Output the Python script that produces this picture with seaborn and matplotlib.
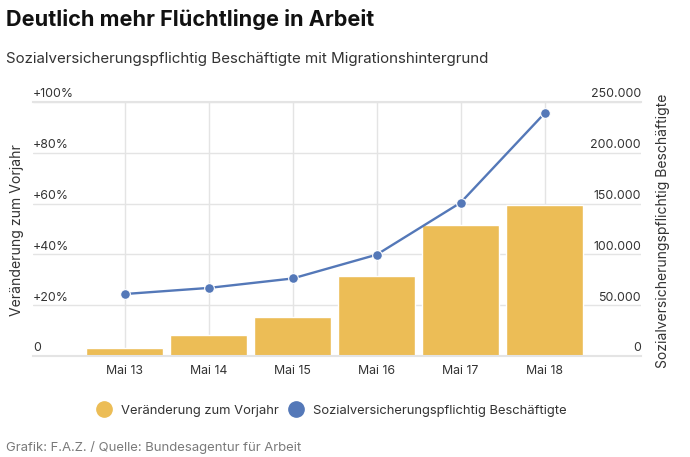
import matplotlib
matplotlib.use("Agg")
import matplotlib.pyplot as plt
from matplotlib.lines import Line2D
from matplotlib.transforms import ScaledTranslation
import pandas as pd
import seaborn as sns

categories = ["Mai 13", "Mai 14", "Mai 15", "Mai 16", "Mai 17", "Mai 18"]
change_pct = [3.3, 8.4, 15.4, 31.5, 51.6, 59.4]
employees = [61000, 67000, 76300, 99700, 150900, 238900]
pct_ticks = [0, 20, 40, 60, 80, 100]
pct_labels = ["0", "+20%", "+40%", "+60%", "+80%", "+100%"]
emp_ticks = [0, 50000, 100000, 150000, 200000, 250000]
emp_labels = ["0", "50.000", "100.000", "150.000", "200.000", "250.000"]
bar_name = "Veränderung zum Vorjahr"
line_name = "Sozialversicherungspflichtig Beschäftigte"

GOLD = "#ecbd56"
BLUE = "#5478b8"
GRID = "#e4e4e4"
TEXT = "#333333"

sns.set_theme(style="white")
plt.rcParams["font.family"] = ["Inter", "DejaVu Sans"]

W, H = 690, 457
fig = plt.figure(figsize=(W / 100, H / 100), dpi=100, facecolor="white")
L, R, T, B = 33, 641, 102, 356
ax = fig.add_axes([L / W, 1 - B / H, (R - L) / W, (B - T) / H])

df = pd.DataFrame({"cat": categories, "pct": change_pct, "emp": employees})
sns.barplot(data=df, x="cat", y="pct", color=GOLD, saturation=1, width=0.91,
            ax=ax, zorder=2)
ax.set_xlim((L - 124.6) / 84, (R - 124.6) / 84)
ax.set_ylim(0, 100)
ax.set_axisbelow(True)
ax.grid(True, color=GRID, linewidth=1)
for s in ax.spines.values():
    s.set_visible(False)
ax.set_xlabel("")
ax.set_ylabel(bar_name, fontsize=10.1, color=TEXT, labelpad=0)
ax.yaxis.set_label_coords((24 - L) / (R - L), 0.496)
ax.set_yticks(pct_ticks, pct_labels)
ax.tick_params(axis="y", length=0, pad=0, labelsize=8.9, labelcolor=TEXT)
up = ScaledTranslation(0, 1.2 / 72, fig.dpi_scale_trans)
for lab in ax.get_yticklabels():
    lab.set_ha("left")
    lab.set_va("bottom")
    lab.set_x(0)
    lab.set_transform(ax.get_yaxis_transform() + up)
ax.tick_params(axis="x", length=0, pad=6.5, labelsize=8.9, labelcolor=TEXT)

ax2 = ax.twinx()
sns.lineplot(data=df, x="cat", y="emp", color=BLUE, linewidth=1.7, marker="o",
             markersize=7, markeredgecolor="white", markeredgewidth=0.8,
             ax=ax2, zorder=5, clip_on=False)
ax2.set_xlim(ax.get_xlim())
ax2.set_ylim(0, 250000)
ax2.grid(False)
for s in ax2.spines.values():
    s.set_visible(False)
for side in ("bottom", "top"):
    ax2.spines[side].set_visible(True)
    ax2.spines[side].set_color(GRID)
    ax2.spines[side].set_linewidth(1.5)
ax2.set_yticks(emp_ticks, emp_labels)
ax2.tick_params(axis="y", length=0, pad=0, labelsize=8.9, labelcolor=TEXT)
for lab in ax2.get_yticklabels():
    lab.set_ha("right")
    lab.set_va("bottom")
    lab.set_transform(ax2.get_yaxis_transform() + up)
ax2.set_xlabel("")
ax2.set_ylabel(line_name, fontsize=10.0, color=TEXT)
ax2.yaxis.set_label_coords((656 - L) / (R - L), 0.492)

fig.text(6 / W, 1 - 20 / H, "Deutlich mehr Flüchtlinge in Arbeit", fontsize=15.6,
         fontweight="bold", color="#111111", ha="left", va="center")
fig.text(6 / W, 1 - 59 / H,
         "Sozialversicherungspflichtig Beschäftigte mit Migrationshintergrund",
         fontsize=10.9, color=TEXT, ha="left", va="center")
fig.text(6 / W, 1 - 447.5 / H, "Grafik: F.A.Z. / Quelle: Bundesagentur für Arbeit",
         fontsize=9.45, color="#7a7a7a", ha="left", va="center")

handles = [Line2D([], [], linestyle="", marker="o", markersize=11, color=GOLD),
           Line2D([], [], linestyle="", marker="o", markersize=11, color=BLUE)]
fig.legend(handles, [bar_name, line_name], ncol=2, frameon=False,
           loc="center", bbox_to_anchor=(331.5 / W, 1 - 410.5 / H),
           fontsize=9.35, labelcolor=TEXT, handlelength=1.2, handletextpad=0.74,
           columnspacing=0.7)

fig.savefig("out.png", dpi=100)
